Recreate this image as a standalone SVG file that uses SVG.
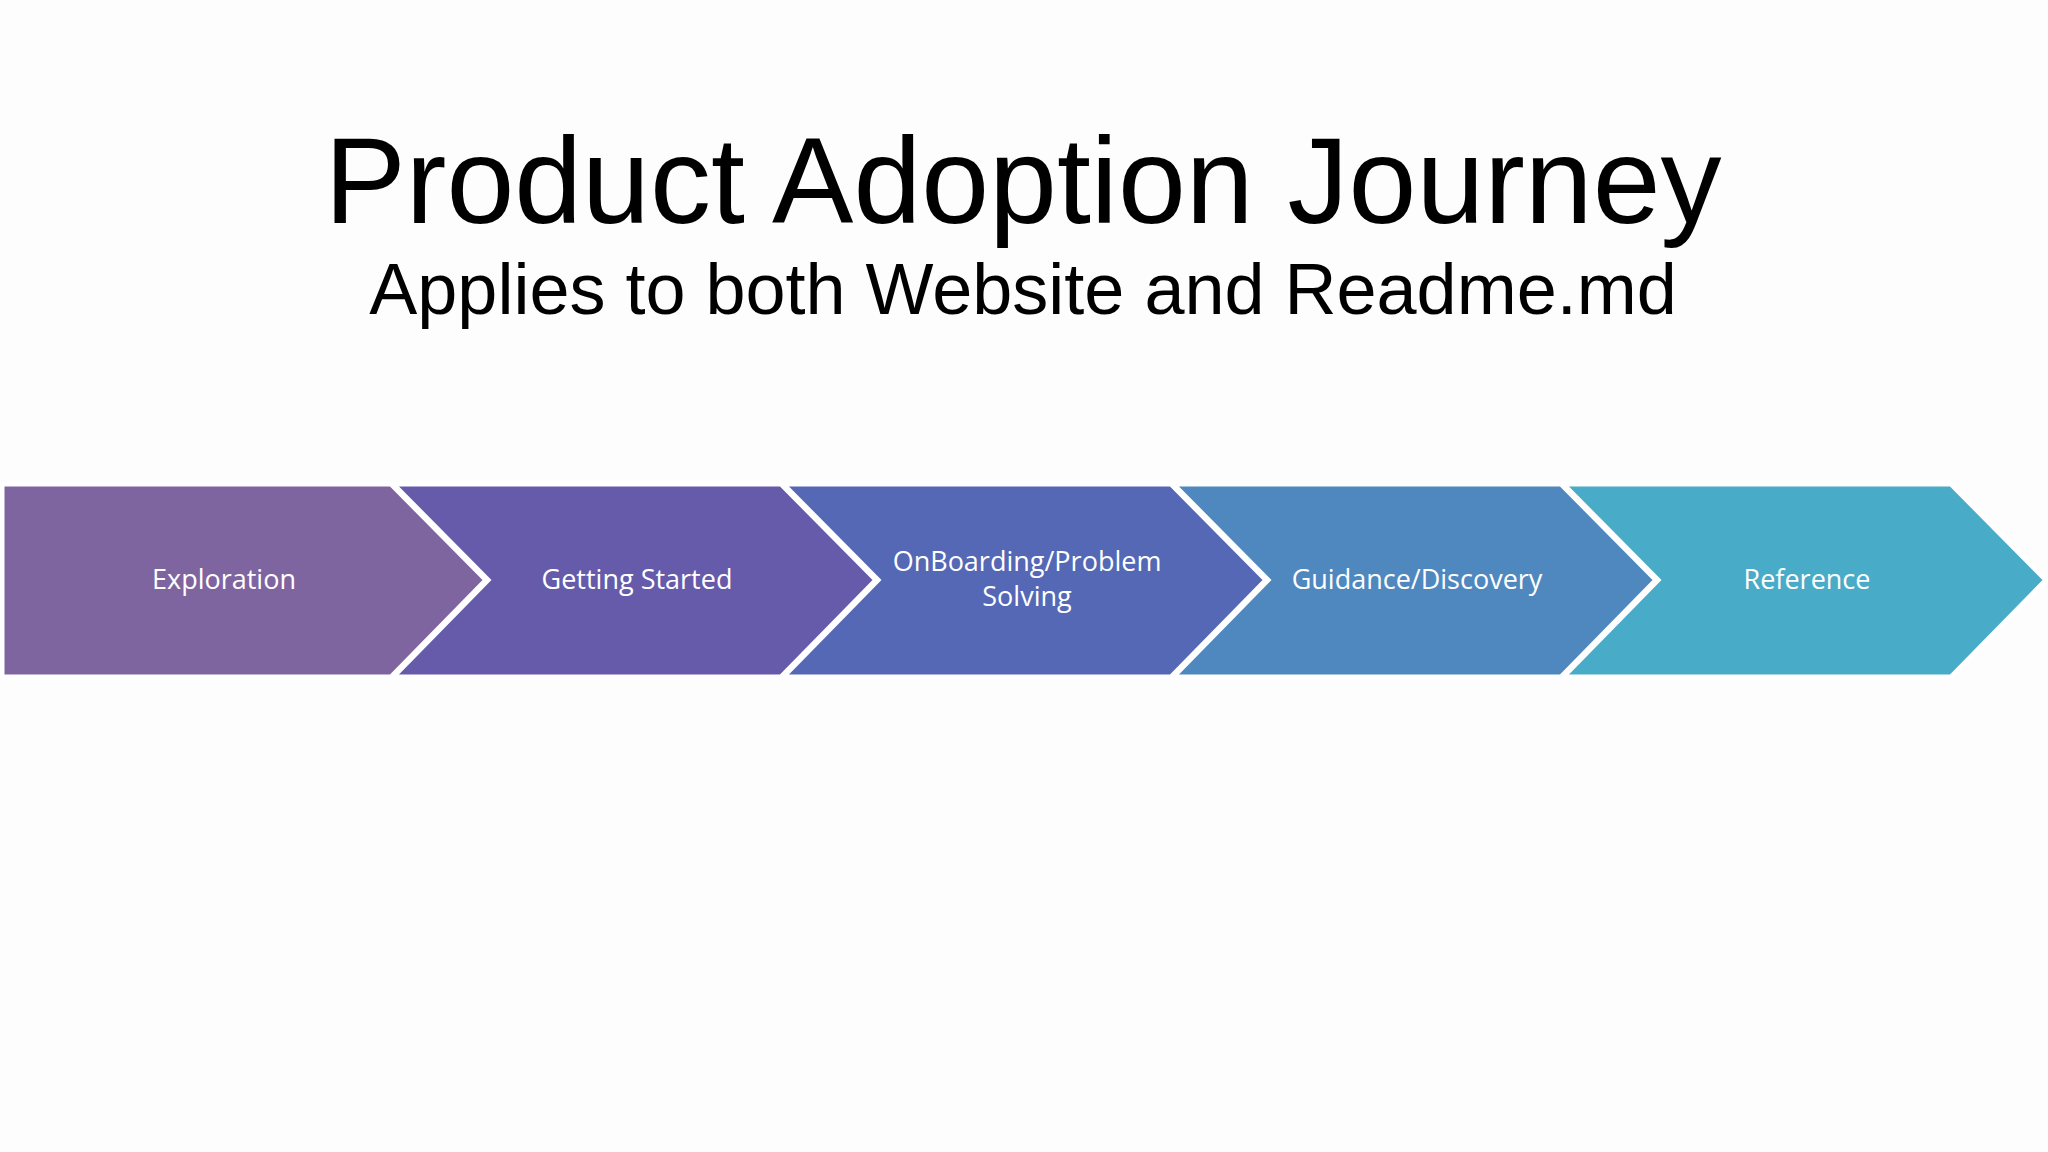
<svg xmlns="http://www.w3.org/2000/svg" width="2048" height="1152" viewBox="0 0 2048 1152">
<style>
.t{font-family:"Liberation Sans",Arial,sans-serif;fill:#000;text-anchor:middle}
.c{stroke:#fff;stroke-width:5;stroke-linejoin:miter}
.l{font-family:"Open Sans","Noto Sans",sans-serif;font-size:27px;fill:#fff;text-anchor:middle}
</style>
<rect width="2048" height="1152" fill="#fdfdfd"/>
<text class="t" x="1023" y="223" font-size="122">Product Adoption Journey</text>
<text class="t" x="1023" y="314" font-size="72">Applies to both Website and Readme.md</text>
<g id="n1"><polygon class="c" fill="#7f65a0" points="2,484 391,484 486,580 391,677 2,677"/><text class="l" x="224" y="589">Exploration</text></g>
<g id="n2"><polygon class="c" fill="#665baa" points="393,484 781,484 876,580 781,677 393,677 488,580"/><text class="l" x="637" y="589">Getting Started</text></g>
<g id="n3"><polygon class="c" fill="#5468b5" points="783,484 1171,484 1266,580 1171,677 783,677 878,580"/><text class="l" x="1027" y="571">OnBoarding/Problem</text><text class="l" x="1027" y="606">Solving</text></g>
<g id="n4"><polygon class="c" fill="#4f88be" points="1173,484 1561,484 1656,580 1561,677 1173,677 1268,580"/><text class="l" x="1417" y="589">Guidance/Discovery</text></g>
<g id="n5"><polygon class="c" fill="#48abc8" points="1563,484 1951,484 2046,580 1951,677 1563,677 1658,580"/><text class="l" x="1807" y="589">Reference</text></g>
<g id="connectors"/>
</svg>
